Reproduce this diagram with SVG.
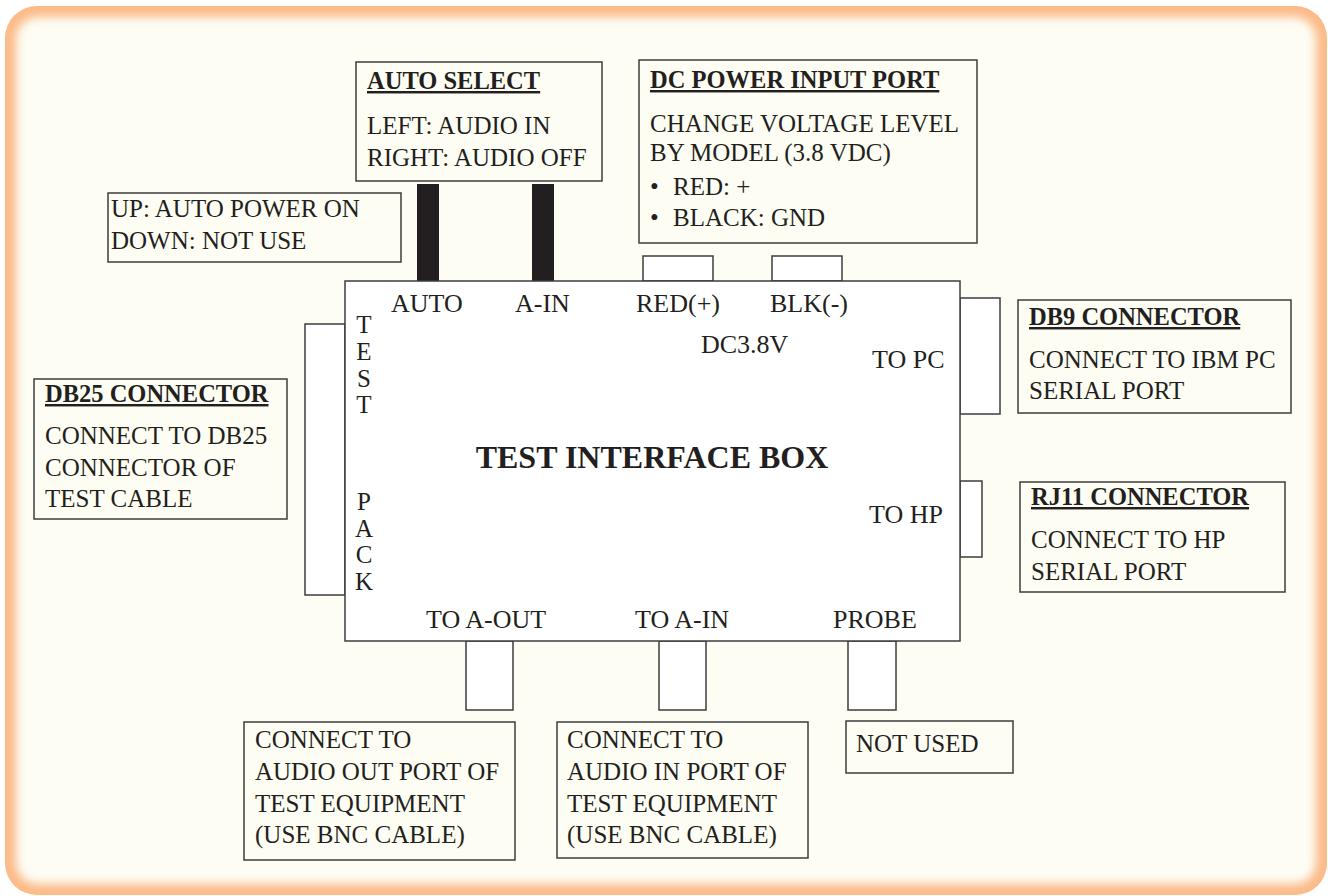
<svg xmlns="http://www.w3.org/2000/svg" width="1328" height="896" viewBox="0 0 1328 896">
<defs>
<filter id="soft" x="-5%" y="-5%" width="110%" height="110%"><feGaussianBlur stdDeviation="5"/></filter>
<style>
.box{fill:#FDFDF4;stroke:#3d3d3d;stroke-width:1.5}
.wbox{fill:#FFFFFF;stroke:#3d3d3d;stroke-width:1.5}
.bar{fill:#231F20}
.t{font-family:"Liberation Serif","Times New Roman",serif;font-size:25px;fill:#231F20}
.h{font-weight:bold;font-size:24.5px;text-decoration:underline}
.m{font-size:26px}
.v{font-size:25px}
.big{font-weight:bold;font-size:32px}
</style>
</defs>
<g id="frame">
<rect x="5" y="6" width="1322" height="889" rx="32" fill="#FCBA88"/>
<rect x="16" y="17" width="1300" height="867" rx="22" fill="#FDFDF4" filter="url(#soft)"/>
</g>
<g id="connectors">
<rect class="bar" x="417" y="184" width="22" height="97"/>
<rect class="bar" x="532" y="184" width="22" height="97"/>
<rect class="wbox" x="643" y="256" width="70" height="25"/>
<rect class="wbox" x="772" y="256" width="70" height="25"/>
<rect class="wbox" x="305" y="324" width="40" height="271"/>
<rect class="wbox" x="960" y="298" width="40" height="116"/>
<rect class="wbox" x="960" y="481" width="22" height="76"/>
<rect class="wbox" x="466" y="641" width="47" height="69"/>
<rect class="wbox" x="659" y="641" width="47" height="69"/>
<rect class="wbox" x="848" y="641" width="48" height="69"/>
</g>
<g id="main-box">
<rect class="wbox" x="345" y="281" width="615" height="360"/>
<text class="t m" x="391" y="312">AUTO</text>
<text class="t m" x="515" y="312">A-IN</text>
<text class="t m" x="636" y="312">RED(+)</text>
<text class="t m" x="770" y="312">BLK(-)</text>
<text class="t m" x="701" y="353">DC3.8V</text>
<text class="t m" x="872" y="368">TO PC</text>
<text class="t m" x="869" y="523">TO HP</text>
<text class="t m" x="426" y="628">TO A-OUT</text>
<text class="t m" x="635" y="628">TO A-IN</text>
<text class="t m" x="833" y="628">PROBE</text>
<text class="t big" x="652" y="468" text-anchor="middle">TEST INTERFACE BOX</text>
<g class="t v" text-anchor="middle">
<text x="364" y="333">T</text>
<text x="364" y="360">E</text>
<text x="364" y="386.5">S</text>
<text x="364" y="413">T</text>
<text x="364" y="510">P</text>
<text x="364" y="536.5">A</text>
<text x="364" y="563">C</text>
<text x="364" y="590">K</text>
</g>
</g>
<g id="auto-select">
<rect class="box" x="356" y="62" width="246" height="119"/>
<text class="t h" x="367" y="89">AUTO SELECT</text>
<text class="t" x="367" y="134">LEFT: AUDIO IN</text>
<text class="t" x="367" y="166">RIGHT: AUDIO OFF</text>
</g>
<g id="auto-power">
<rect class="box" x="108" y="193" width="293" height="69"/>
<text class="t" x="111" y="217">UP: AUTO POWER ON</text>
<text class="t" x="111" y="249">DOWN: NOT USE</text>
</g>
<g id="dc-power">
<rect class="box" x="639" y="60" width="338" height="183"/>
<text class="t h" x="650" y="88">DC POWER INPUT PORT</text>
<text class="t" x="650" y="132">CHANGE VOLTAGE LEVEL</text>
<text class="t" x="650" y="161">BY MODEL (3.8 VDC)</text>
<text class="t" x="650" y="195">•<tspan x="673">RED: +</tspan></text>
<text class="t" x="650" y="226">•<tspan x="673">BLACK: GND</tspan></text>
</g>
<g id="db25">
<rect class="box" x="34" y="379" width="253" height="140"/>
<text class="t h" x="45" y="402">DB25 CONNECTOR</text>
<text class="t" x="45" y="444">CONNECT TO DB25</text>
<text class="t" x="45" y="476">CONNECTOR OF</text>
<text class="t" x="45" y="507">TEST CABLE</text>
</g>
<g id="db9">
<rect class="box" x="1018" y="300" width="273" height="113"/>
<text class="t h" x="1029" y="325">DB9 CONNECTOR</text>
<text class="t" x="1029" y="368">CONNECT TO IBM PC</text>
<text class="t" x="1029" y="399">SERIAL PORT</text>
</g>
<g id="rj11">
<rect class="box" x="1020" y="482" width="265" height="110"/>
<text class="t h" x="1031" y="505">RJ11 CONNECTOR</text>
<text class="t" x="1031" y="548">CONNECT TO HP</text>
<text class="t" x="1031" y="580">SERIAL PORT</text>
</g>
<g id="a-out">
<rect class="box" x="244" y="722" width="271" height="138"/>
<text class="t" x="255" y="748">CONNECT TO</text>
<text class="t" x="255" y="780">AUDIO OUT PORT OF</text>
<text class="t" x="255" y="812">TEST EQUIPMENT</text>
<text class="t" x="255" y="843">(USE BNC CABLE)</text>
</g>
<g id="a-in">
<rect class="box" x="557" y="722" width="251" height="136"/>
<text class="t" x="567" y="748">CONNECT TO</text>
<text class="t" x="567" y="780">AUDIO IN PORT OF</text>
<text class="t" x="567" y="812">TEST EQUIPMENT</text>
<text class="t" x="567" y="843">(USE BNC CABLE)</text>
</g>
<g id="probe">
<rect class="box" x="846" y="721" width="167" height="52"/>
<text class="t" x="856" y="752">NOT USED</text>
</g>
</svg>
